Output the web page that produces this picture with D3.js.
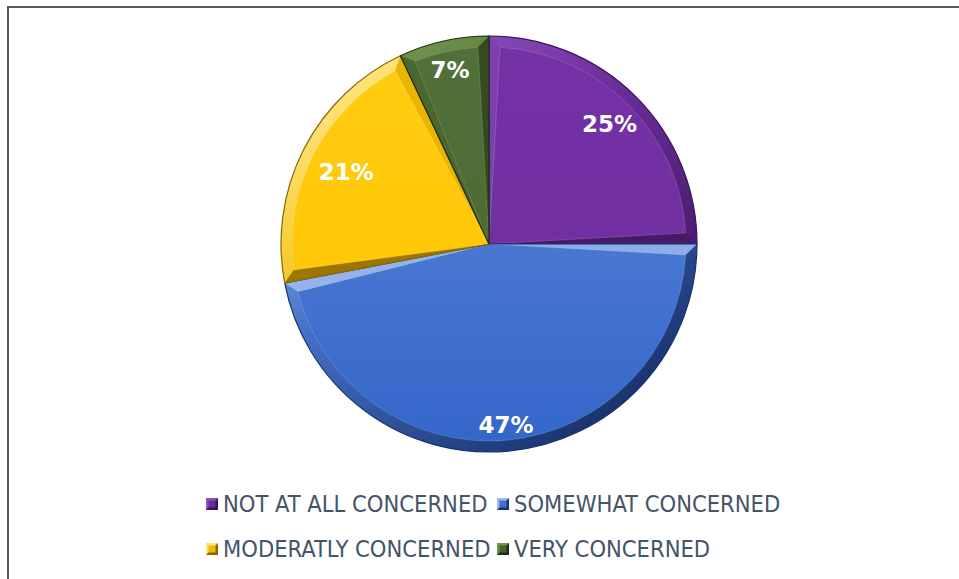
<!DOCTYPE html>
<html><head><meta charset="utf-8">
<script src="https://cdn.jsdelivr.net/npm/d3@7"></script>
<style>html,body{margin:0;padding:0;background:#fff;}svg{display:block;}</style>
</head><body>
<svg id="chart" width="959" height="579"></svg>
<script>
const categories = ["NOT AT ALL CONCERNED", "SOMEWHAT CONCERNED", "MODERATLY CONCERNED", "VERY CONCERNED"];
const values = [25, 47, 21, 7];
const labels = ["25%", "47%", "21%", "7%"];
const baseColors = ["#6A2C98", "#4571C8", "#F2BC00", "#46632A"];
const lightColors = ["#8E52BE", "#9AB8EE", "#FFE27A", "#72934E"];
const darkColors = ["#3A155A", "#1A3470", "#8A6800", "#1E2E14"];
const innerTop = ["#7531A6", "#5E89D8", "#FFCD12", "#51703A"];
const innerBot = ["#6E2E9E", "#3366CA", "#FFC300", "#4A672C"];

const svg = d3.select("#chart");
const W = 959, H = 579;
svg.append("rect").attr("x", 8).attr("y", 7).attr("width", W).attr("height", H)
  .attr("fill", "#fff").attr("stroke", "#595959").attr("stroke-width", 2);

const cx = 489, cy = 244, R = 208, bev = 11;
const defs = svg.append("defs");
categories.forEach((c, i) => {
  const g = defs.append("linearGradient").attr("id", "band" + i)
    .attr("gradientUnits", "userSpaceOnUse")
    .attr("x1", -R * 0.6).attr("y1", -R * 0.8)
    .attr("x2", R * 0.6).attr("y2", R * 0.8);
  g.append("stop").attr("offset", "0%").attr("stop-color", lightColors[i]);
  g.append("stop").attr("offset", "40%").attr("stop-color", baseColors[i]);
  g.append("stop").attr("offset", "100%").attr("stop-color", darkColors[i]);
  const f = defs.append("linearGradient").attr("id", "fill" + i)
    .attr("gradientUnits", "userSpaceOnUse")
    .attr("x1", 0).attr("y1", -R).attr("x2", 0).attr("y2", R);
  f.append("stop").attr("offset", "0%").attr("stop-color", innerTop[i]);
  f.append("stop").attr("offset", "100%").attr("stop-color", innerBot[i]);
});

const pie = d3.pie().sort(null).value(d => d)(values);
const outer = d3.arc().innerRadius(0).outerRadius(R);
const inner = d3.arc().innerRadius(0).outerRadius(R - bev).padRadius(R).padAngle(2 * bev / R);

// light direction (from upper left)
const Lx = -0.5, Ly = -0.85;
function shade(i, nx, ny) {
  const s = Math.max(-1, Math.min(1, nx * Lx + ny * Ly));
  return s >= 0 ? d3.interpolateRgb(baseColors[i], lightColors[i])(s)
                : d3.interpolateRgb(baseColors[i], darkColors[i])(-s * 0.9);
}
function strips(d) {
  const a0 = d.startAngle, a1 = d.endAngle, th = a1 - a0;
  const m = (a0 + a1) / 2, k = bev / Math.sin(th / 2);
  const apex = [k * Math.sin(m), -k * Math.cos(m)];
  const Ri = R - bev, t = Math.sqrt(Ri * Ri - bev * bev);
  const s0 = [t * Math.sin(a0) + bev * Math.cos(a0), -t * Math.cos(a0) + bev * Math.sin(a0)];
  const s1 = [t * Math.sin(a1) - bev * Math.cos(a1), -t * Math.cos(a1) - bev * Math.sin(a1)];
  const o0 = [R * Math.sin(a0), -R * Math.cos(a0)];
  const o1 = [R * Math.sin(a1), -R * Math.cos(a1)];
  return [
    { pts: [[0, 0], o0, s0, apex], n: [-Math.cos(a0), -Math.sin(a0)] },
    { pts: [[0, 0], o1, s1, apex], n: [Math.cos(a1), Math.sin(a1)] }
  ];
}

const g = svg.append("g").attr("transform", `translate(${cx},${cy})`);
const sl = g.selectAll("g.slice").data(pie).enter().append("g").attr("class", "slice");
sl.append("path").attr("d", outer).attr("fill", (d, i) => `url(#band${i})`);
sl.each(function (d, i) {
  d3.select(this).selectAll("path.strip").data(strips(d)).enter().append("path")
    .attr("class", "strip")
    .attr("d", s => d3.line()(s.pts) + "Z")
    .attr("fill", s => shade(i, s.n[0], s.n[1]));
});
sl.append("path").attr("d", inner).attr("fill", (d, i) => `url(#fill${i})`)
  .attr("stroke", "rgba(255,255,255,0.15)").attr("stroke-width", 1);
sl.append("path").attr("d", outer).attr("fill", "none")
  .attr("stroke", (d, i) => darkColors[i]).attr("stroke-width", 1.2);

const fr = [0.82, 0.875, 0.77, 0.86];
g.selectAll("text.lbl").data(pie).enter().append("text").attr("class", "lbl")
  .attr("transform", (d, i) => {
    const a = (d.startAngle + d.endAngle) / 2;
    const r = R * fr[i];
    return `translate(${r * Math.sin(a)},${-r * Math.cos(a)})`;
  })
  .attr("text-anchor", "middle").attr("dy", "0.36em")
  .attr("font-family", "'DejaVu Sans', sans-serif").attr("font-weight", "bold")
  .attr("font-size", 23).attr("fill", "#fff")
  .text((d, i) => labels[i]);

// legend
const legPos = [[206, 504], [497, 504], [206, 549], [497, 549]];
const lg = svg.append("g");
categories.forEach((c, i) => {
  const [x, y] = legPos[i];
  const s = 12;
  const item = lg.append("g").attr("transform", `translate(${x},${y - s / 2})`);
  item.append("rect").attr("width", s).attr("height", s).attr("fill", darkColors[i]);
  item.append("path").attr("d", `M0,0L${s},0L0,${s}Z`).attr("fill", lightColors[i]);
  item.append("rect").attr("x", 2.5).attr("y", 2.5).attr("width", s - 5).attr("height", s - 5).attr("fill", baseColors[i]);
  lg.append("text").attr("x", x + 17).attr("y", y).attr("dy", "0.36em")
    .attr("font-family", "'DejaVu Sans Condensed', 'DejaVu Sans', sans-serif")
    .attr("font-stretch", "condensed")
    .attr("font-size", 23.5).attr("fill", "#44546A").text(c);
});
</script>
</body></html>
